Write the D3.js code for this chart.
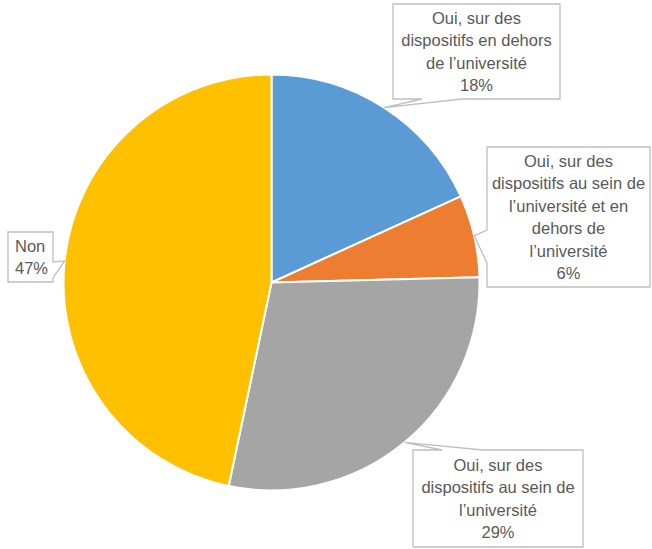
<!DOCTYPE html>
<html>
<head>
<meta charset="utf-8">
<script src="https://cdn.jsdelivr.net/npm/d3@7"></script>
<style>
  body{margin:0;background:#fff;}
  svg{display:block;}
</style>
</head>
<body>
<div id="chart"></div>
<script>
// data
var categories = [
  "Oui, sur des dispositifs en dehors de l\u2019universit\u00e9",
  "Oui, sur des dispositifs au sein de l\u2019universit\u00e9 et en dehors de l\u2019universit\u00e9",
  "Oui, sur des dispositifs au sein de l\u2019universit\u00e9",
  "Non"
];
var shares = [0.182, 0.064, 0.287, 0.467];
var labelLines = [
  ["Oui, sur des","dispositifs en dehors","de l\u2019universit\u00e9"],
  ["Oui, sur des","dispositifs au sein de","l\u2019universit\u00e9 et en","dehors de","l\u2019universit\u00e9"],
  ["Oui, sur des","dispositifs au sein de","l\u2019universit\u00e9"],
  ["Non"]
];
var colors = ["#5B9BD5","#ED7D31","#A5A5A5","#FFC000"];

// label boxes (layout only)
var boxes = [
  {x:393, y:4,   w:167, h:95,  align:"middle", tail:"bottom", t0:422, t1:462},
  {x:487, y:147, w:163, h:140, align:"middle", tail:"left",   t0:230, t1:263},
  {x:413, y:450, w:170, h:97,  align:"middle", tail:"top",    t0:442, t1:483},
  {x:8,   y:232, w:45,  h:50,  align:"start",  tail:"right",  t0:262, t1:278}
];

var width = 652, height = 549;
var cx = 271.5, cy = 282.5, radius = 208;
var lineH = 22.5;

var svg = d3.select("#chart").append("svg")
  .attr("width", width)
  .attr("height", height);

var pie = d3.pie().sort(null).value(function(d){ return d; });
var arcs = pie(shares);

var arc = d3.arc().innerRadius(0).outerRadius(radius);
var edgeArc = d3.arc().innerRadius(radius).outerRadius(radius);

var g = svg.append("g").attr("transform","translate("+cx+","+cy+")");

g.selectAll("path.slice")
  .data(arcs)
  .enter()
  .append("path")
  .attr("class","slice")
  .attr("d", arc)
  .attr("fill", function(d,i){ return colors[i]; })
  .attr("stroke","#fff")
  .attr("stroke-width",2)
  .attr("stroke-linejoin","round");

var fmt = d3.format(".0%");

// callout boxes with a little tail pointing at the slice edge
arcs.forEach(function(d,i){
  var b = boxes[i];
  var c = edgeArc.centroid(d);
  var px = c[0]+cx, py = c[1]+cy;
  var x0 = b.x, y0 = b.y, x1 = b.x+b.w, y1 = b.y+b.h;
  var pts;
  if(b.tail=="bottom"){
    pts = [[x0,y0],[x1,y0],[x1,y1],[b.t1,y1],[px,py],[b.t0,y1],[x0,y1]];
  }else if(b.tail=="top"){
    pts = [[x0,y0],[b.t0,y0],[px,py],[b.t1,y0],[x1,y0],[x1,y1],[x0,y1]];
  }else if(b.tail=="left"){
    pts = [[x0,y0],[x1,y0],[x1,y1],[x0,y1],[x0,b.t1],[px,py],[x0,b.t0]];
  }else{
    pts = [[x0,y0],[x1,y0],[x1,b.t0],[px,py],[x1,b.t1],[x1,y1],[x0,y1]];
  }
  svg.append("path")
    .attr("d", d3.line()(pts)+"Z")
    .attr("fill","#fff")
    .attr("stroke","#BFBFBF")
    .attr("stroke-width",1.3);

  var lines = labelLines[i].concat([fmt(shares[i])]);
  var tx = b.align=="middle" ? b.x+b.w/2 : b.x+7;
  var top = b.y + b.h/2 - (lines.length-1)*lineH/2;
  var txt = svg.append("text")
    .attr("text-anchor", b.align)
    .attr("font-family","'Liberation Sans', Arial, sans-serif")
    .attr("font-size","16.5px")
    .attr("fill","#595959");
  lines.forEach(function(l,j){
    txt.append("tspan")
      .attr("x", tx)
      .attr("y", top + j*lineH)
      .attr("dy","0.35em")
      .text(l);
  });
});
</script>
</body>
</html>
